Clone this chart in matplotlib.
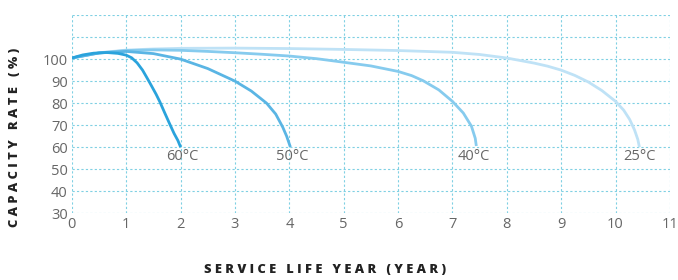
import matplotlib.pyplot as plt

# Datos (año, capacidad %)
anios_60 = [0, 0.2, 0.4, 0.64, 0.85, 1.0, 1.1, 1.2, 1.3, 1.37, 1.45, 1.55, 1.62, 1.7, 1.8, 1.88, 1.95, 2.0]
cap_60 = [100.5, 101.9, 102.7, 103, 102.6, 101.8, 100.6, 98.3, 95, 92, 88.5, 84, 80.5, 76, 70.5, 66.2, 63, 60]

anios_50 = [0, 0.5, 1.0, 1.5, 2.0, 2.5, 3.0, 3.3, 3.58, 3.75, 3.88, 3.95, 4.02]
cap_50 = [100.5, 102.8, 103.5, 102.5, 100, 95.7, 90, 85.5, 80, 75, 69, 65, 60]

anios_40 = [0, 0.5, 1.0, 1.5, 2.0, 2.5, 3.0, 3.5, 4.0, 4.5, 4.93, 5.5, 6.0, 6.25, 6.46, 6.75,
            7.0, 7.2, 7.35, 7.42, 7.44]
cap_40 = [100.5, 102.8, 103.9, 104.2, 104, 103.5, 102.9, 102.2, 101.4, 100.2, 98.8, 96.9, 94.4,
          92.5, 90.2, 86, 80.8, 75.5, 69.5, 64, 60.5]

anios_25 = [0, 0.5, 1.0, 1.5, 2.0, 3.0, 4.0, 5.0, 6.0, 7.0, 7.5, 8.0, 8.5, 8.75, 9.0, 9.25,
            9.5, 9.75, 10.0, 10.15, 10.26, 10.35, 10.41, 10.44]
cap_25 = [100.5, 102.9, 104.1, 104.6, 104.9, 105, 104.8, 104.4, 103.9, 103.1, 102.1, 100.5,
          98.2, 96.8, 95, 92.6, 89.6, 85.7, 80.8, 76.8, 72.6, 67.8, 63.5, 60]

etiquetas = ['60°C', '50°C', '40°C', '25°C']
pos_etiquetas = [2.03, 4.05, 7.4, 10.45]
colores = ['#2aa3dc', '#5ab5e4', '#86cbee', '#bfe2f6']

plt.rcParams['font.family'] = ['Open Sans', 'DejaVu Sans']

fig = plt.figure(figsize=(6.78, 2.8), dpi=100)
ax = fig.add_axes([0.106, 0.239, 0.882, 0.707])

series = [(anios_25, cap_25), (anios_40, cap_40), (anios_50, cap_50), (anios_60, cap_60)]
cols = colores[::-1]
for (xs, ys), c in zip(series, cols):
    ax.plot(xs, ys, color=c, linewidth=2.0, solid_capstyle='butt',
            solid_joinstyle='round', zorder=3)

for txt, xp in zip(etiquetas, pos_etiquetas):
    ax.text(xp, 55.5, txt, ha='center', va='center', fontsize=10.5, color='#666666')

ax.set_xlim(0, 11)
ax.set_ylim(30, 120)
ax.set_xticks(range(0, 12))
ax.set_yticks(range(30, 121, 10))
ax.set_yticklabels([str(v) if v <= 100 else '' for v in range(30, 121, 10)])
ax.grid(True, color='#7fd0e3', linestyle=(0, (2, 2)), linewidth=0.8)
for s in ax.spines.values():
    s.set_visible(False)
ax.tick_params(length=0, labelsize=10.5, labelcolor='#666666', pad=3)


def espaciar(texto):
    return '   '.join(' '.join(p) for p in texto.split(' '))


fig.text(325 / 678, 1 - 270 / 280, espaciar('SERVICE LIFE YEAR (YEAR)'), ha='center',
         va='center', fontsize=9.3, fontweight='heavy', color='#222222')
fig.text(15 / 678, 1 - 137 / 280, espaciar('CAPACITY RATE (%)'), ha='center',
         va='center', rotation=90, fontsize=9.3, fontweight='heavy', color='#222222')

plt.savefig('out.png', dpi=100)
